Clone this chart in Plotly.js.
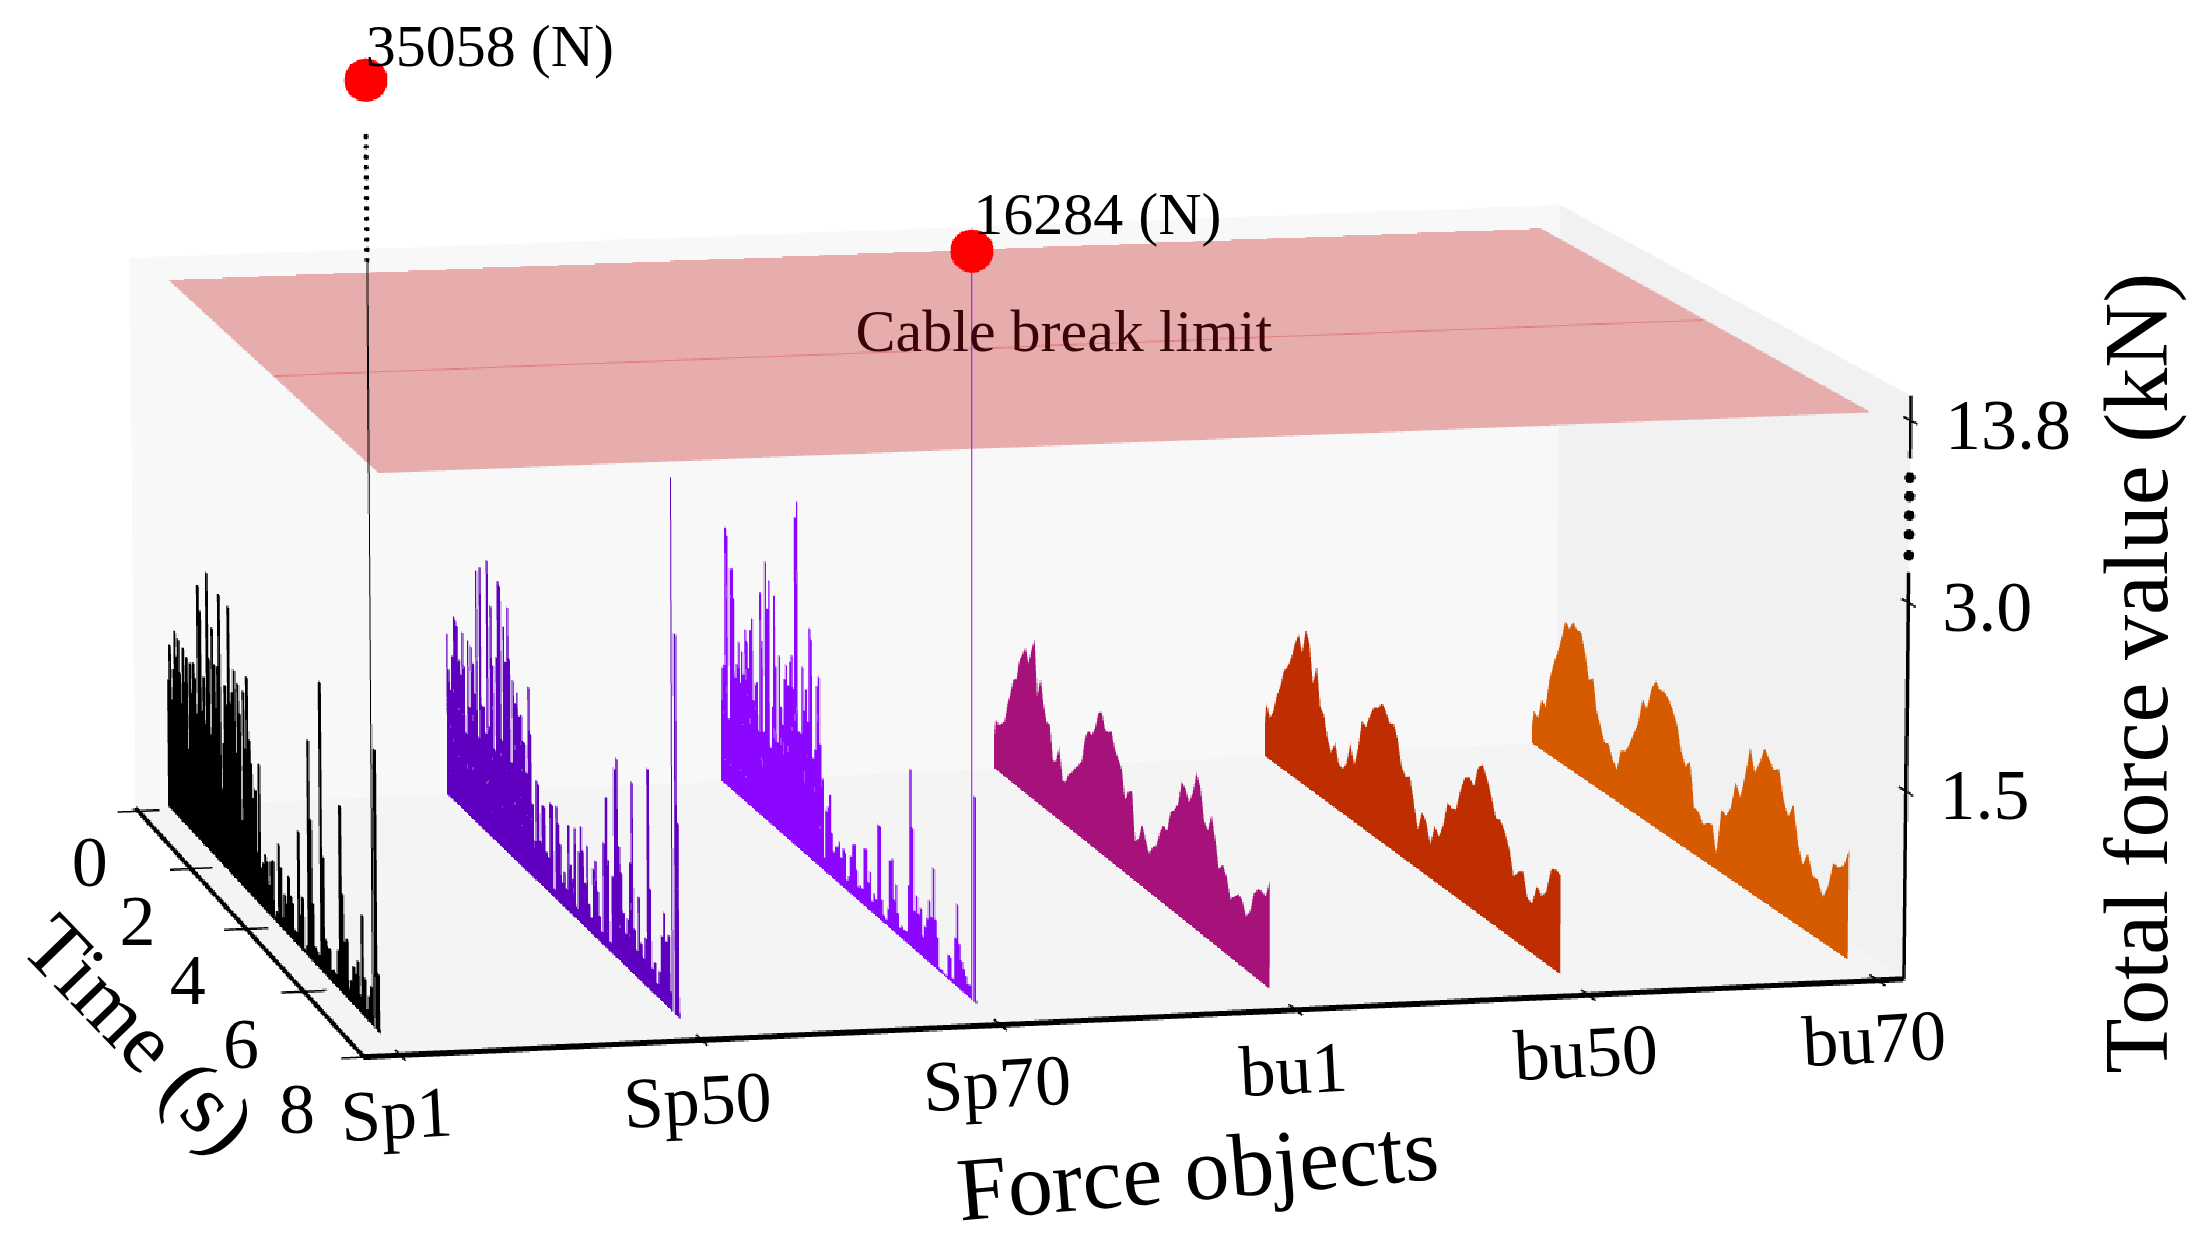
<!DOCTYPE html>
<html><head><meta charset="utf-8">
<script src="https://cdn.plot.ly/plotly-3.0.1.min.js"></script>
<style>html,body{margin:0;padding:0;width:100%;height:100%;overflow:hidden;background:#fff}
#plot{position:absolute;left:-309px;top:-5117px;transform:scale(2.8);transform-origin:0 0}
#plot canvas{image-rendering:pixelated}</style></head><body><div id="plot"></div>
<script>
const categories=['Sp1','Sp50','Sp70','bu1','bu50','bu70'];
const timeTicks=[0,2,4,6,8];
const forceTicks=[1500,3000,13800];
const forceTickText=['1.5','3.0','13.8'];
const peakForce=[35058,16284];
const cableBreakLimit=13800;
const firstSampleTime=-0.15;
const lastSampleTime=7.35;
const colors=['#000000','#5f00c0','#8b07ff','#a6127a','#bf2e00','#d65a00'];
// force in newtons, equally spaced samples from the first to the last sample
const sp1=[340,1080,1390,940,1210,1550,1350,1510,1240,1000,1480,1210,1430,670,1410,1170,1440,1330,1040,2130,1930,1110,1410,1030,2310,1610,990,1890,1600,1250,1610,2230,630,1020,1520,1370,2200,1410,1520,1720,1050,1640,1410,540,1620,1160,1770,1270,1090,820,910,410,1150,320,370,460,420,240,450,480,45,90,660,490,95,300,240,480,340,300,100,95,930,270,430,30,75,1750,1130,470,140,125,110,2310,930,290,245,250,95,115,95,310,1480,800,430,470,100,175,310,270,390,140,790,310,80,200,300,35058,2200,460,30];
const sp50=[420,1370,1080,920,1220,1570,1550,1520,1240,1130,1500,1230,680,1470,930,1450,1320,1080,2130,740,2180,1040,1040,830,2290,920,1940,1450,760,1550,2200,2170,900,1860,1580,2050,1630,790,1480,1310,1410,1230,1250,1050,1050,820,1540,1170,610,320,830,810,360,670,670,320,290,750,750,70,770,640,490,190,290,170,710,400,300,730,100,570,790,610,360,680,220,130,540,620,390,210,95,830,1220,730,80,630,1510,1610,920,720,420,270,400,870,1530,370,220,660,310,210,380,1750,810,190,260,110,220,520,720,510,580,150,12000,3000,1530,50];
const sp70=[700,980,1010,2190,2130,590,1870,1890,1650,990,1110,1310,980,1250,1070,1460,1370,1160,1490,1600,920,1070,1100,700,1880,1480,730,2170,1790,2040,650,1000,1940,1360,740,1480,1060,920,1320,1450,1290,1500,1570,1300,2740,2880,980,980,1540,1190,1380,1120,1910,1830,860,940,1480,1570,1020,750,110,510,560,670,370,230,280,300,350,230,320,300,85,130,310,420,440,240,115,140,130,470,480,220,320,95,170,140,760,760,175,65,45,150,550,580,260,400,180,75,105,90,95,480,1430,970,310,450,320,380,170,260,340,500,380,790,390,260,30,30,20,20,200,190,40,380,660,360,240,190,150,100,110,16284,1630,30];
const bu1=[90,430,400,430,470,630,750,890,910,1090,1160,1240,1120,1260,1370,910,1070,870,740,750,460,480,620,360,370,460,490,550,590,650,860,950,930,1000,1150,1190,1060,1060,1090,960,900,840,600,700,720,330,380,510,400,320,400,430,570,640,620,800,840,910,1120,1080,990,1090,1280,1190,950,880,1030,860,640,700,630,470,510,560,540,430,490,660,720,730,710,870];
const bu50=[70,470,360,440,600,700,860,910,1010,1150,1250,1110,1330,1240,920,1090,760,720,540,450,550,390,380,440,640,480,640,900,870,990,1080,1100,1160,1120,1040,1060,950,750,690,720,530,330,500,440,280,460,400,510,730,700,720,910,1030,1060,1010,1190,1240,1150,1030,880,890,820,710,510,580,610,420,400,570,520,580,790,810,790];
const bu70=[30,300,250,440,390,660,810,930,1070,1250,1200,1280,1230,1230,1080,870,910,650,540,430,440,330,270,460,470,560,670,780,1010,950,1130,1230,1180,1190,1150,1080,980,790,680,750,390,380,300,340,350,140,530,500,590,830,730,930,1190,1010,1110,1260,1190,1130,1170,940,830,950,670,520,640,480,480,370,470,700,690,730,880];
const seriesValues=[sp1,sp50,sp70,bu1,bu50,bu70];
const stepped=[true,true,true,false,false,false];

const cssScale=2.8;
const family='"Liberation Serif","Times New Roman",serif';
const scaleIn=[0,3000,13800,16284,35058], scaleOut=[0,2,2.96,3.935,4.915];
function zOf(n){for(let i=1;i<scaleIn.length;i++){if(n<=scaleIn[i]){return scaleOut[i-1]+(n-scaleIn[i-1])/(scaleIn[i]-scaleIn[i-1])*(scaleOut[i]-scaleOut[i-1]);}}return scaleOut[scaleOut.length-1];}
function timeAt(i,n){const u=i/(n-1);return firstSampleTime+(lastSampleTime-firstSampleTime)*u/(1.09-0.09*u);}
const P=v=>v/cssScale;
const xRange=[-0.12,5.09],tRange=[8,-0.1],zRange=[0,3.09];
const solid={ambient:1,diffuse:0,specular:0,roughness:1,fresnel:0};

function ribbon(values,cx,color,step){
  const xs=[],ys=[],zs=[],ii=[],jj=[],kk=[];const n=values.length;
  if(step){
    values.forEach((v,i)=>{
      const t0=timeAt(i,n),t1=i<n-1?timeAt(i+1,n):t0+0.02,b=xs.length,z=v>3000?0:zOf(v);
      xs.push(cx,cx,cx,cx);ys.push(t0,t0,t1,t1);zs.push(0,z,z,0);
      ii.push(b,b);jj.push(b+1,b+2);kk.push(b+2,b+3);
    });
  }else{
    values.forEach((v,i)=>{
      const t=timeAt(i,n),b=xs.length;xs.push(cx,cx);ys.push(t,t);zs.push(0,zOf(v));
      if(i<n-1){ii.push(b,b+1);jj.push(b+1,b+3);kk.push(b+2,b+2);}
    });
  }
  return {type:'mesh3d',scene:'scene',x:xs,y:ys,z:zs,i:ii,j:jj,k:kk,color:color,flatshading:true,lighting:solid,hoverinfo:'skip',showscale:false};
}
function stems(values,cx,color){
  const xs=[],ys=[],zs=[];const n=values.length;
  values.forEach((v,i)=>{ if(v>3000) return; const t=timeAt(i,n); xs.push(cx,cx,null);ys.push(t,t,null);zs.push(0,zOf(v),null); });
  return {type:'scatter3d',scene:'scene',mode:'lines',x:xs,y:ys,z:zs,line:{color:color,width:1.2},connectgaps:false,hoverinfo:'skip'};
}
const traces=seriesValues.map((v,i)=>ribbon(v,i,colors[i],stepped[i]));
traces.push(stems(sp1,0,colors[0]));
const pl=zOf(cableBreakLimit);
traces.push({type:'mesh3d',scene:'scene',x:[0.02,5.02,5.01,-0.02],y:[-0.45,-0.45,7.65,7.65],z:[pl,pl,pl,pl],i:[0,0],j:[1,2],k:[2,3],
  color:'rgb(231,173,173)',flatshading:true,lighting:solid,hoverinfo:'skip'});
traces.push({type:'scatter3d',scene:'scene',mode:'lines',x:[0,5],y:[3.95,3.95],z:[pl+0.005,pl+0.005],line:{color:'#e08080',width:1},hoverinfo:'skip'});

function seg(xa,xb,ta,tb,za,zb,color,width){return {type:'scatter3d',scene:'scene2',mode:'lines',x:[xa,xb],y:[ta,tb],z:[za,zb],line:{color:color,width:width},hoverinfo:'skip'};}
const t1=timeAt(sp1.indexOf(peakForce[0]),sp1.length),t2=timeAt(sp70.indexOf(peakForce[1]),sp70.length);
const tSp50=timeAt(sp50.indexOf(12000),sp50.length);
traces.push(seg(0,0,t1,t1,0,zOf(17000),'#000',1));
traces.push(seg(1,1,tSp50,tSp50,0,zOf(12000),colors[1],1));
traces.push(seg(2,2,t2,t2,0,zOf(peakForce[1]),colors[2],1));
const dotZ=[];for(let k=0;k<13;k++){dotZ.push(zOf(17300)+(zOf(29460)-zOf(17300))*k/12);}
traces.push({type:'scatter3d',scene:'scene2',mode:'markers',x:dotZ.map(()=>0),y:dotZ.map(()=>t1),z:dotZ,marker:{color:'#000',size:1,line:{width:0}},hoverinfo:'skip'});
traces.push({type:'scatter3d',scene:'scene2',mode:'markers',x:[0,2],y:[t1,t2],z:[zOf(peakForce[0]),zOf(peakForce[1])],marker:{color:'#ff0000',size:9,line:{width:0}},hoverinfo:'skip'});
const xE=xRange[1],tE=tRange[0];
traces.push(seg(xE,xE,tE,tE,0,2.16,'#000',2.5));
traces.push(seg(xE,xE,tE,tE,2.76,zRange[1],'#000',2.5));
traces.push({type:'scatter3d',scene:'scene2',mode:'markers',x:[xE,xE,xE,xE,xE],y:[tE,tE,tE,tE,tE],z:[2.25,2.36,2.46,2.56,2.66],marker:{color:'#000',size:2.2,line:{width:0}},hoverinfo:'skip'});
forceTicks.forEach(f=>traces.push(seg(xE,xE,tE-0.15,tE+0.15,zOf(f),zOf(f),'#000',1.5)));
categories.forEach((c,i)=>traces.push(seg(i,i,tE-0.17,tE+0.17,0,0,'#000',1.5)));
timeTicks.forEach(t=>traces.push(seg(xRange[0]-0.075,xRange[0]+0.075,t,t,0,0,'#000',1.5)));

const camera={eye:{x:-2.56,y:-10.65,z:2.02},center:{x:0,y:0,z:0},up:{x:0,y:0,z:1},projection:{type:'perspective'}};
function ax(o){return Object.assign({showgrid:false,zeroline:false,showspikes:false,ticks:'',showticklabels:false,showbackground:true,title:{text:''}},o);}
const zSpan=zRange[1]-zRange[0],zMid=(zRange[0]+zRange[1])/2,R=3.6,W=1.2,zAspect=0.464;
const xMid=(xRange[0]+xRange[1])/2,xHalf=(xRange[1]-xRange[0])/2*W,tMid=(tRange[0]+tRange[1])/2,tHalf=(tRange[0]-tRange[1])/2*W;
const hidden={visible:false,showspikes:false};
function note(x,t,z,text,size,dx,dy,opt){return Object.assign({x:x,y:t,z:z,text:text,showarrow:false,xanchor:'center',yanchor:'middle',xshift:P(dx),yshift:P(-dy),font:{family:family,size:P(size),color:'#000'}},opt||{});}
const annotations=[
  note(0,t1,zOf(peakForce[0]),'35058 (N)',60,-5,7,{xanchor:'left',yanchor:'bottom'}),
  note(2,t2,zOf(peakForce[1]),'16284 (N)',60,-3,2,{xanchor:'left',yanchor:'bottom'}),
  note(2.5,3.5,pl,'Cable break limit',60,83,-6,{font:{family:family,size:P(60),color:'#3a0508'}})
];
categories.forEach((c,i)=>annotations.push(note(i,tE,0,c,72,-3,59,{textangle:-3})));
timeTicks.forEach(t=>annotations.push(note(xRange[0],t,0,String(t),72,-49-2.2*t,52)));
forceTicks.forEach((f,i)=>annotations.push(note(xE,tE,zOf(f),forceTickText[i],72,29,5,{xanchor:'left'})));
annotations.push(note(2.5,tE,0,'Force objects',90,48,152,{textangle:-5}));
annotations.push(note(xRange[0],4,0,'Time (s)',86,-107,106,{textangle:46}));
annotations.push(note(xE,tE,1.5,'Total force value (kN)',90,230,-23,{textangle:-90}));
const layout={width:930,height:4090,margin:{l:0,r:0,t:0,b:0},paper_bgcolor:'rgba(0,0,0,0)',showlegend:false,
  scene:{domain:{x:[0,1],y:[0,1]},aspectmode:'manual',aspectratio:{x:1.229,y:1,z:zAspect},camera:camera,dragmode:false,hovermode:false,
    bgcolor:'rgba(0,0,0,0)',
    xaxis:ax({showline:true,linecolor:'#000',linewidth:4,range:xRange,backgroundcolor:'#f1f1f1'}),
    yaxis:ax({showline:true,linecolor:'#000',linewidth:4,range:tRange,backgroundcolor:'#f8f8f8'}),
    zaxis:ax({showline:false,range:zRange,backgroundcolor:'#f4f4f4'})},
  scene2:{domain:{x:[0,1],y:[0,1]},aspectmode:'manual',aspectratio:{x:1.229*W,y:1*W,z:zAspect*(2*R)/zSpan},camera:camera,dragmode:false,hovermode:false,
    bgcolor:'rgba(0,0,0,0)',
    xaxis:Object.assign({range:[xMid-xHalf,xMid+xHalf]},hidden),yaxis:Object.assign({range:[tMid+tHalf,tMid-tHalf]},hidden),zaxis:Object.assign({range:[zMid-R,zMid+R]},hidden),
    annotations:annotations}
};
Plotly.newPlot('plot',traces,layout,{displayModeBar:false,responsive:false});
</script></body></html>
